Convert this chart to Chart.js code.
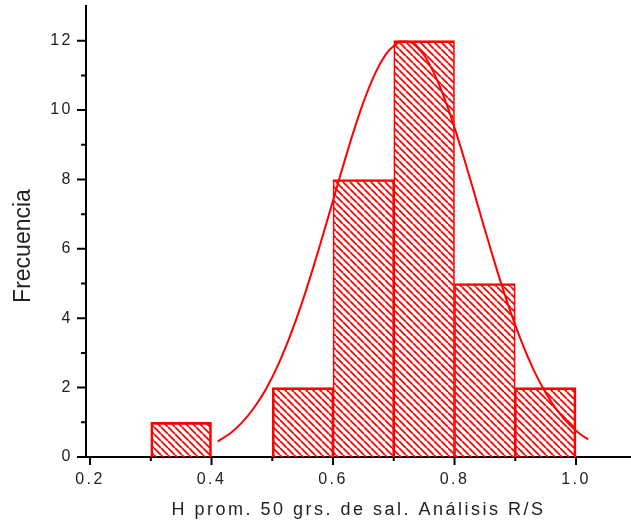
<!DOCTYPE html>
<html>
<head>
<meta charset="utf-8">
<script src="https://cdn.jsdelivr.net/npm/chart.js@4.4.1/dist/chart.umd.min.js"></script>
<style>
html, body { margin: 0; padding: 0; background: #fff; }
</style>
</head>
<body>
<canvas id="histo" width="631" height="527"></canvas>
<script>
// histograma
const binStart = [0.3, 0.5, 0.6, 0.7, 0.8, 0.9];
const binEnd   = [0.4, 0.6, 0.7, 0.8, 0.9, 1.0];
const counts   = [1, 2, 8, 12, 5, 2];

// curva normal
const curveX = [0.41, 0.43, 0.45, 0.47, 0.49, 0.51, 0.53, 0.55, 0.57, 0.59, 0.61, 0.63, 0.65, 0.67, 0.69, 0.71,
                0.73, 0.75, 0.77, 0.79, 0.81, 0.83, 0.85, 0.87, 0.89, 0.91, 0.93, 0.95, 0.97, 0.99, 1.01, 1.02];
const curveY = [0.45, 0.67, 0.99, 1.42, 1.97, 2.67, 3.52, 4.50, 5.61, 6.79, 8.00, 9.17, 10.22, 11.08, 11.68, 11.97,
                11.94, 11.58, 10.92, 10.02, 8.94, 7.76, 6.55, 5.38, 4.30, 3.34, 2.52, 1.85, 1.32, 0.92, 0.62, 0.51];

const xTickLabels = [0.2, 0.4, 0.6, 0.8, 1.0];
const xMinorTicks = [0.3, 0.5, 0.7, 0.9];
const yTickLabels = [0, 2, 4, 6, 8, 10, 12];
const yMinorTicks = [1, 3, 5, 7, 9, 11];

const RED = '#ff0000';
const FONT = '"Liberation Sans", Arial, sans-serif';
Chart.defaults.font.family = FONT;

// rayado diagonal
const pc = document.createElement('canvas');
pc.width = 7; pc.height = 7;
const pctx = pc.getContext('2d');
pctx.strokeStyle = RED;
pctx.lineWidth = 1.8;
pctx.beginPath();
for (let k = -1; k <= 1; k++) {
    pctx.moveTo(k * 7, 0);
    pctx.lineTo(k * 7 + 7, 7);
}
pctx.stroke();
const hatch = document.getElementById('histo').getContext('2d').createPattern(pc, 'repeat');

const touchesPrev = i => i > 0 && Math.abs(binEnd[i - 1] - binStart[i]) < 1e-9;
const touchesNext = i => i < binStart.length - 1 && Math.abs(binStart[i + 1] - binEnd[i]) < 1e-9;

const axisExtras = {
    id: 'axisExtras',
    beforeDraw(chart) { chart.ctx.letterSpacing = '2.5px'; },
    afterDraw(chart) {
        const ctx = chart.ctx, xs = chart.scales.x, ys = chart.scales.y, a = chart.chartArea;
        ctx.save();
        ctx.strokeStyle = '#000';
        ctx.lineWidth = 2;
        ctx.beginPath();
        yTickLabels.forEach(v => { const y = ys.getPixelForValue(v); ctx.moveTo(a.left - 9, y); ctx.lineTo(a.left, y); });
        yMinorTicks.forEach(v => { const y = ys.getPixelForValue(v); ctx.moveTo(a.left - 5, y); ctx.lineTo(a.left, y); });
        xTickLabels.forEach(v => { const x = xs.getPixelForValue(v); ctx.moveTo(x, a.bottom); ctx.lineTo(x, a.bottom + 8); });
        xMinorTicks.forEach(v => { const x = xs.getPixelForValue(v); ctx.moveTo(x, a.bottom); ctx.lineTo(x, a.bottom + 4); });
        ctx.stroke();
        // título eje Y
        ctx.letterSpacing = '0px';
        ctx.translate(24, 246);
        ctx.rotate(-Math.PI / 2);
        ctx.font = '23px ' + FONT;
        ctx.fillStyle = '#222';
        ctx.textAlign = 'center';
        ctx.textBaseline = 'middle';
        ctx.fillText('Frecuencia', 0, 0);
        ctx.restore();
    }
};

new Chart(document.getElementById('histo'), {
    data: {
        datasets: [
            {
                type: 'line',
                data: curveX.map((x, i) => ({ x: x, y: curveY[i] })),
                borderColor: RED,
                borderWidth: 2,
                pointRadius: 0,
                tension: 0.2,
                order: 0
            },
            {
                type: 'bar',
                data: binStart.map((s, i) => ({ x: (s + binEnd[i]) / 2, y: counts[i] })),
                backgroundColor: hatch,
                borderColor: RED,
                borderWidth: ctx => ({
                    top: 2,
                    bottom: 0,
                    left: touchesPrev(ctx.dataIndex) ? 1 : 2,
                    right: touchesNext(ctx.dataIndex) ? 1 : 2
                }),
                borderSkipped: false,
                barPercentage: 1,
                categoryPercentage: 1,
                order: 1
            }
        ]
    },
    options: {
        responsive: false,
        animation: false,
        layout: { autoPadding: false, padding: { top: 6, right: 0, bottom: 0, left: 0 } },
        plugins: { legend: { display: false }, tooltip: { enabled: false } },
        scales: {
            x: {
                type: 'linear',
                offset: false,
                min: 0.1934,
                max: 1.0905,
                grid: { display: false, drawTicks: false, offset: false },
                border: { display: true, color: '#000', width: 2 },
                afterBuildTicks: s => { s.ticks = xTickLabels.map(v => ({ value: v })); },
                afterFit: s => { s.height = 70; s.paddingLeft = 0; s.paddingRight = 0; },
                ticks: {
                    padding: 13, color: '#222', font: { size: 16 },
                    maxRotation: 0, autoSkip: false,
                    callback: v => Number(v).toFixed(1)
                },
                title: {
                    display: true,
                    text: 'H prom. 50 grs. de sal. Análisis R/S',
                    color: '#222',
                    font: { size: 18 },
                    padding: { top: 0, bottom: 6 }
                }
            },
            y: {
                type: 'linear',
                min: 0,
                max: 13,
                grid: { display: false, drawTicks: false },
                border: { display: true, color: '#000', width: 2 },
                afterBuildTicks: s => { s.ticks = yTickLabels.map(v => ({ value: v })); },
                afterFit: s => { s.width = 86; s.paddingTop = 0; s.paddingBottom = 0; },
                ticks: { padding: 13, color: '#222', font: { size: 16 }, callback: v => String(v) }
            }
        }
    },
    plugins: [axisExtras]
});
</script>
</body>
</html>
